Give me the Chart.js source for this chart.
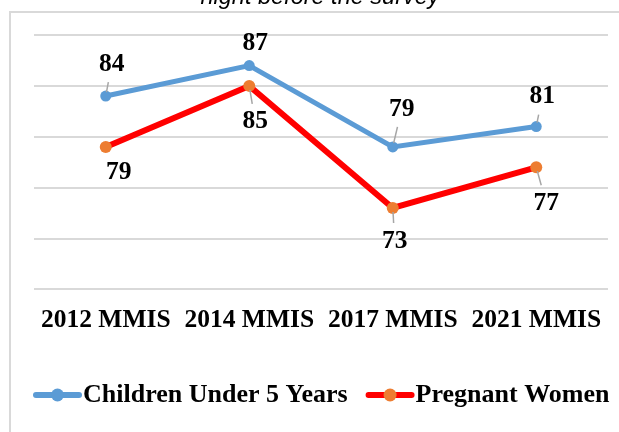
<!DOCTYPE html>
<html>
<head>
    <meta charset="UTF-8">
    <title>Anaemia chart</title>
    <script src="https://cdn.jsdelivr.net/npm/chart.js@4/dist/chart.umd.min.js"></script>
    <style>
        html, body { margin: 0; padding: 0; background: #fff; }
        #wrap { width: 619px; height: 432px; position: relative; }
    </style>
</head>
<body>
<div id="wrap"><canvas id="myChart" width="619" height="432"></canvas></div>
<script>
    var surveys = ['2012 MMIS', '2014 MMIS', '2017 MMIS', '2021 MMIS'];
    var children = [84, 87, 79, 81];
    var pregnant = [79, 85, 73, 77];
    var seriesNames = ['Children Under 5 Years', 'Pregnant Women'];
    var titleTail = 'night before the survey';

    var serif = '"Liberation Serif", "Times New Roman", serif';

    // where each value label sits, relative to its point
    var labelShift = [
        [[6, -32], [6, -22], [9, -38], [6, -30]],
        [[13, 25], [6, 36], [2, 33], [10, 36]]
    ];

    const frameAndTitle = {
        id: 'frameAndTitle',
        beforeDraw(chart) {
            const ctx = chart.ctx;
            ctx.save();
            ctx.strokeStyle = '#d9d9d9';
            ctx.lineWidth = 2;
            ctx.beginPath();
            ctx.moveTo(10, 440);
            ctx.lineTo(10, 12);
            ctx.lineTo(640, 12);
            ctx.stroke();
            ctx.fillStyle = '#000';
            ctx.font = 'italic 23.5px "Liberation Sans", Arial, sans-serif';
            ctx.textAlign = 'center';
            ctx.textBaseline = 'alphabetic';
            ctx.fillText(titleTail, 320, 4);
            ctx.restore();
        }
    };

    const valueLabels = {
        id: 'valueLabels',
        afterDatasetsDraw(chart) {
            const ctx = chart.ctx;
            ctx.save();
            chart.data.datasets.forEach((ds, di) => {
                const meta = chart.getDatasetMeta(di);
                meta.data.forEach((pt, i) => {
                    const dx = labelShift[di][i][0], dy = labelShift[di][i][1];
                    const len = Math.sqrt(dx * dx + dy * dy);
                    const endF = 1 - 18 / Math.abs(dy);
                    const startF = 4 / len;
                    if ((endF - startF) * len > 5) {
                        ctx.strokeStyle = '#a6a6a6';
                        ctx.lineWidth = 1.5;
                        ctx.beginPath();
                        ctx.moveTo(pt.x + dx * startF, pt.y + dy * startF);
                        ctx.lineTo(pt.x + dx * endF, pt.y + dy * endF);
                        ctx.stroke();
                    }
                    ctx.fillStyle = '#000';
                    ctx.font = 'bold 25.5px ' + serif;
                    ctx.textAlign = 'center';
                    ctx.textBaseline = 'middle';
                    ctx.fillText(String(ds.data[i]), pt.x + dx, pt.y + dy);
                });
            });
            ctx.restore();
        }
    };

    const lineLegend = {
        id: 'lineLegend',
        afterDraw(chart) {
            const ctx = chart.ctx;
            const y = 395;
            let x = 33;
            ctx.save();
            ctx.font = 'bold 26px ' + serif;
            ctx.textBaseline = 'middle';
            ctx.textAlign = 'left';
            chart.data.datasets.forEach((ds) => {
                ctx.strokeStyle = ds.borderColor;
                ctx.lineWidth = 6;
                ctx.lineCap = 'round';
                ctx.beginPath();
                ctx.moveTo(x + 3, y);
                ctx.lineTo(x + 46, y);
                ctx.stroke();
                ctx.fillStyle = ds.pointBackgroundColor;
                ctx.beginPath();
                ctx.arc(x + 24.5, y, 6.5, 0, Math.PI * 2);
                ctx.fill();
                ctx.fillStyle = '#000';
                ctx.fillText(ds.label, x + 50, y);
                x += 50 + ctx.measureText(ds.label).width + 18;
            });
            ctx.restore();
        }
    };

    const data = {
        labels: surveys,
        datasets: [{
            label: seriesNames[0],
            data: children,
            borderColor: '#5B9BD5',
            backgroundColor: '#5B9BD5',
            pointBackgroundColor: '#5B9BD5',
            borderWidth: 5,
            pointRadius: 5.5,
            pointBorderWidth: 0,
            tension: 0
        }, {
            label: seriesNames[1],
            data: pregnant,
            borderColor: '#FF0000',
            backgroundColor: '#FF0000',
            pointBackgroundColor: '#ED7D31',
            borderWidth: 6,
            pointRadius: 6,
            pointBorderWidth: 0,
            tension: 0
        }]
    };

    const config = {
        type: 'line',
        data,
        options: {
            responsive: false,
            animation: false,
            layout: { padding: { top: 35, left: 0, right: 11, bottom: 80 } },
            plugins: {
                legend: { display: false },
                tooltip: { enabled: false }
            },
            scales: {
                x: {
                    offset: true,
                    grid: { display: false, drawTicks: false },
                    border: { display: false },
                    ticks: {
                        padding: 16,
                        color: '#000',
                        font: { family: serif, size: 25.5, weight: 'bold' }
                    }
                },
                y: {
                    min: 65,
                    max: 90,
                    ticks: { display: false, stepSize: 5 },
                    grid: { color: '#d9d9d9', lineWidth: 2, drawTicks: false },
                    border: { display: false },
                    afterFit(scale) { scale.width = 34; }
                }
            }
        },
        plugins: [frameAndTitle, valueLabels, lineLegend]
    };

    var myChart = new Chart(document.getElementById('myChart'), config);
</script>
</body>
</html>
